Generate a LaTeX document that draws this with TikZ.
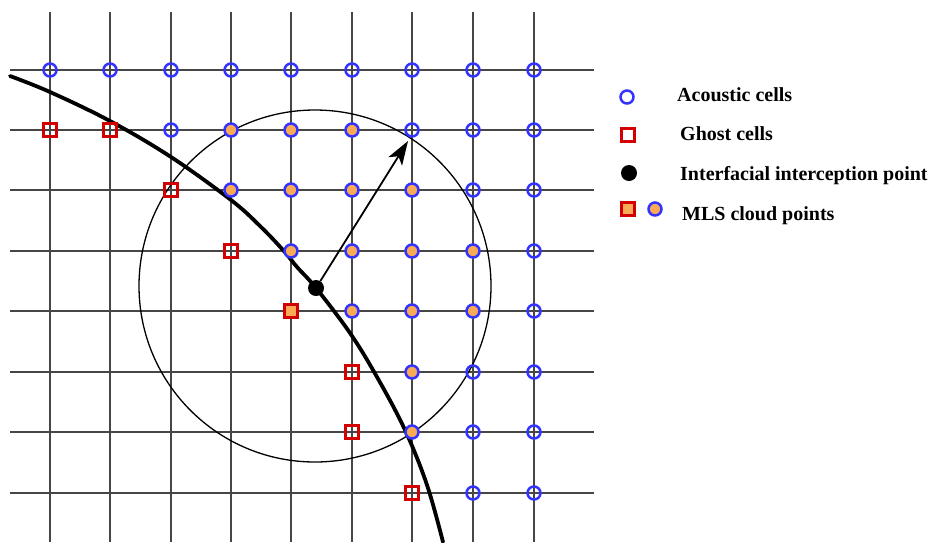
\documentclass[tikz,border=0pt]{standalone}
\usepackage{fontspec}
\setmainfont{Liberation Serif}
\usetikzlibrary{arrows.meta}
\definecolor{acblue}{RGB}{51,51,255}
\definecolor{ghred}{RGB}{210,0,0}
\definecolor{mlsorange}{RGB}{250,170,85}
\definecolor{gridgray}{RGB}{70,70,70}
\tikzset{
  gridline/.style={draw=gridgray, line width=1.2pt},
  acell/.style={circle, draw=acblue, line width=2.5pt, minimum size=13pt, inner sep=0pt, fill=none},
  cloudcell/.style={acell, fill=mlsorange},
  gcell/.style={rectangle, draw=ghred, line width=2.5pt, minimum size=13pt, inner sep=0pt},
  gcloud/.style={gcell, fill=mlsorange},
  ipoint/.style={circle, fill=black, minimum size=16pt, inner sep=0pt},
  interface/.style={line width=3.8pt, line join=round, line cap=round},
  supportcircle/.style={line width=1.3pt},
  radius arrow/.style={line width=1.8pt, -{Stealth[length=24pt,width=16pt,inset=6pt]}},
  legtext/.style={anchor=base west, font=\fontsize{20}{24}\selectfont\bfseries, inner sep=0pt}
}
\begin{document}
\begin{tikzpicture}[x=1pt,y=-1pt]
\useasboundingbox (0,0) rectangle (934,542);
% grid
\foreach \x in {50,110,171,231,291,352,412,473,534}{
  \draw[gridline] (\x,12) -- (\x,542);
}
\foreach \y in {70,130,190,251,311,372,432,493}{
  \draw[gridline] (10,\y) -- (594,\y);
}
% support circle
\draw[supportcircle] (315,286) circle (176);
% interface curve
\draw[interface] plot[smooth, tension=0.6] coordinates {(10,76) (50,92) (110,121) (171,157) (231,200) (260,226) (283,250) (297,267) (316,288) (350,333) (377,377) (405,430) (427,485) (443,542)};
% acoustic cells (hollow)
\foreach \x/\y [count=\i] in {50/70,110/70,171/70,231/70,291/70,352/70,412/70,473/70,534/70,
  171/130,412/130,473/130,534/130,
  473/190,534/190,
  534/251,
  534/311,
  473/372,534/372,
  473/432,534/432,
  473/493,534/493}{
  \node[acell] (a\i) at (\x,\y) {};
}
% cloud acoustic cells
\foreach \x/\y [count=\i] in {231/130,291/130,352/130,
  231/190,291/190,352/190,412/190,
  291/251,352/251,412/251,473/251,
  352/311,412/311,473/311,
  412/372,
  412/432}{
  \node[cloudcell] (c\i) at (\x,\y) {};
}
% ghost cells
\foreach \x/\y [count=\i] in {50/130,110/130,171/190,231/251,352/372,352/432,412/493}{
  \node[gcell] (g\i) at (\x,\y) {};
}
\node[gcloud] (gc1) at (291,311) {};
% interfacial point and radius
\node[ipoint] (ip) at (316,288) {};
\coordinate (rend) at (408,141);
\draw[radius arrow] (ip) -- (rend);
% legend
\node[acell] (la) at (627,97) {};
\node[legtext] (lat) at (677,101) {Acoustic cells};
\node[gcell] (lg) at (628,135) {};
\node[legtext] (lgt) at (680,140) {Ghost cells};
\node[ipoint] (li) at (629,173) {};
\node[legtext] (lit) at (680,180) {Interfacial interception point};
\node[gcloud] (lm1) at (628,209) {};
\node[cloudcell] (lm2) at (655,209) {};
\node[legtext] (lmt) at (682,220) {MLS cloud points};
\end{tikzpicture}
\end{document}
